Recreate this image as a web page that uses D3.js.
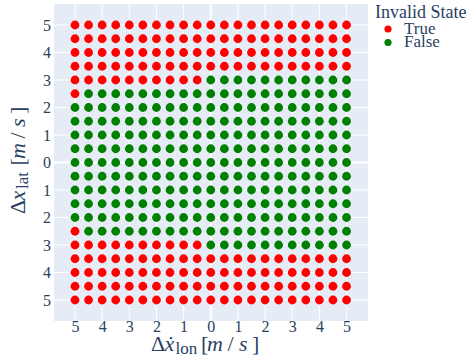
<!DOCTYPE html>
<html>
<head>
<meta charset="utf-8">
<script src="https://cdn.jsdelivr.net/npm/d3@7"></script>
<style>
  html, body { margin: 0; padding: 0; background: #fff; }
  svg { display: block; }
  svg text { font-family: "Liberation Serif", "Times New Roman", serif; fill: #2a3f5f; }
</style>
</head>
<body>
<svg id="chart" width="469" height="361"></svg>
<script>
// Grid of relative states: longitudinal speed difference (x) and lateral offset (y)
const xValues = [-5, -4.5, -4, -3.5, -3, -2.5, -2, -1.5, -1, -0.5, 0, 0.5, 1, 1.5, 2, 2.5, 3, 3.5, 4, 4.5, 5];
const yValues = [5, 4.5, 4, 3.5, 3, 2.5, 2, 1.5, 1, 0.5, 0, -0.5, -1, -1.5, -2, -2.5, -3, -3.5, -4, -4.5, -5];

// One row per yValues entry, one flag per xValues entry (1 = invalid state)
const invalidRows = [
  "111111111111111111111",
  "111111111111111111111",
  "111111111111111111111",
  "111111111111111111111",
  "111111111100000000000",
  "100000000000000000000",
  "000000000000000000000",
  "000000000000000000000",
  "000000000000000000000",
  "000000000000000000000",
  "000000000000000000000",
  "000000000000000000000",
  "000000000000000000000",
  "000000000000000000000",
  "000000000000000000000",
  "100000000000000000000",
  "111111111100000000000",
  "111111111111111111111",
  "111111111111111111111",
  "111111111111111111111",
  "111111111111111111111"
];

const xTicks = [-5, -4, -3, -2, -1, 0, 1, 2, 3, 4, 5];
const yTicks = [-5, -4, -3, -2, -1, 0, 1, 2, 3, 4, 5];

const legendTitle = "Invalid State";
const legendEntries = ["True", "False"];
const stateColors = { True: "#ff0000", False: "#008000" };

// Flatten into point records
const points = [];
yValues.forEach((yv, i) => {
  xValues.forEach((xv, j) => {
    points.push({ x: xv, y: yv, state: invalidRows[i][j] === "1" ? "True" : "False" });
  });
});

const svg = d3.select("#chart");
const plot = { left: 54, right: 368, top: 4, bottom: 321 };

const x = d3.scaleLinear().domain([-5.773, 5.79]).range([plot.left, plot.right]);
const y = d3.scaleLinear().domain([-5.764, 5.764]).range([plot.bottom, plot.top]);

// Plot background
svg.append("rect")
  .attr("x", plot.left).attr("y", plot.top)
  .attr("width", plot.right - plot.left).attr("height", plot.bottom - plot.top)
  .attr("fill", "#e5ecf6");

// Grid lines
const grid = svg.append("g");
grid.selectAll("line.vx").data(xTicks).join("line")
  .attr("x1", d => x(d)).attr("x2", d => x(d))
  .attr("y1", plot.top).attr("y2", plot.bottom)
  .attr("stroke", "#fff").attr("stroke-width", d => d === 0 ? 2 : 1);
grid.selectAll("line.hy").data(yTicks).join("line")
  .attr("y1", d => y(d)).attr("y2", d => y(d))
  .attr("x1", plot.left).attr("x2", plot.right)
  .attr("stroke", "#fff").attr("stroke-width", d => d === 0 ? 2 : 1);

// Axes (labels only, no domain line or tick marks)
const fmt = d => String(Math.abs(d));
const xAxis = svg.append("g")
  .attr("transform", `translate(0,${plot.bottom})`)
  .call(d3.axisBottom(x).tickValues(xTicks).tickFormat(fmt).tickSize(0).tickPadding(0));
const yAxis = svg.append("g")
  .attr("transform", `translate(${plot.left},0)`)
  .call(d3.axisLeft(y).tickValues(yTicks).tickFormat(fmt).tickSize(0).tickPadding(3));
[xAxis, yAxis].forEach(g => {
  g.attr("font-family", null).attr("font-size", null);
  g.select(".domain").remove();
  g.selectAll("text")
    .style("font-family", "'Liberation Serif', 'Times New Roman', serif")
    .style("font-size", "16px")
    .style("fill", "#2a3f5f");
});
xAxis.selectAll("text").attr("dy", null).attr("y", 10.5);

// Points
svg.append("g").selectAll("circle").data(points).join("circle")
  .attr("cx", d => x(d.x))
  .attr("cy", d => y(d.y))
  .attr("r", 4.4)
  .attr("fill", d => stateColors[d.state]);

// Axis titles, typeset piece by piece (offsets along the baseline)
function mathTitle(g, parts) {
  parts.forEach(p => {
    g.append("text")
      .attr("x", p.at)
      .attr("y", p.sub ? 2.5 : 0)
      .style("font-size", (p.sub ? 17 : 22) + "px")
      .style("font-style", p.italic ? "italic" : "normal")
      .text(p.t);
  });
}

const xTitle = svg.append("g").attr("transform", "translate(151,351)");
mathTitle(xTitle, [
  { t: "Δ", at: 0 }, { t: "ẋ", at: 13.5, italic: true }, { t: "lon", at: 24.5, sub: true },
  { t: "[", at: 50 }, { t: "m", at: 56, italic: true }, { t: "/", at: 76.5 },
  { t: "s", at: 88, italic: true }, { t: "]", at: 101 }
]);

const yTitle = svg.append("g").attr("transform", "translate(25,214) rotate(-90)");
mathTitle(yTitle, [
  { t: "Δ", at: 0 }, { t: "x", at: 13.5, italic: true }, { t: "lat", at: 25, sub: true },
  { t: "[", at: 48.5 }, { t: "m", at: 55, italic: true }, { t: "/", at: 75.5 },
  { t: "s", at: 87, italic: true }, { t: "]", at: 100 }
]);

// Legend
const legend = svg.append("g");
legend.append("text")
  .attr("x", 375).attr("y", 18)
  .style("font-size", "18px")
  .text(legendTitle);
const items = legend.selectAll("g.item").data(legendEntries).join("g")
  .attr("transform", (d, i) => `translate(0,${29 + i * 13.5})`);
items.append("circle")
  .attr("cx", 388).attr("cy", 0).attr("r", 3.6)
  .attr("fill", d => stateColors[d]);
items.append("text")
  .attr("x", 404).attr("y", 4.5)
  .style("font-size", "17px")
  .text(d => d);
</script>
</body>
</html>
